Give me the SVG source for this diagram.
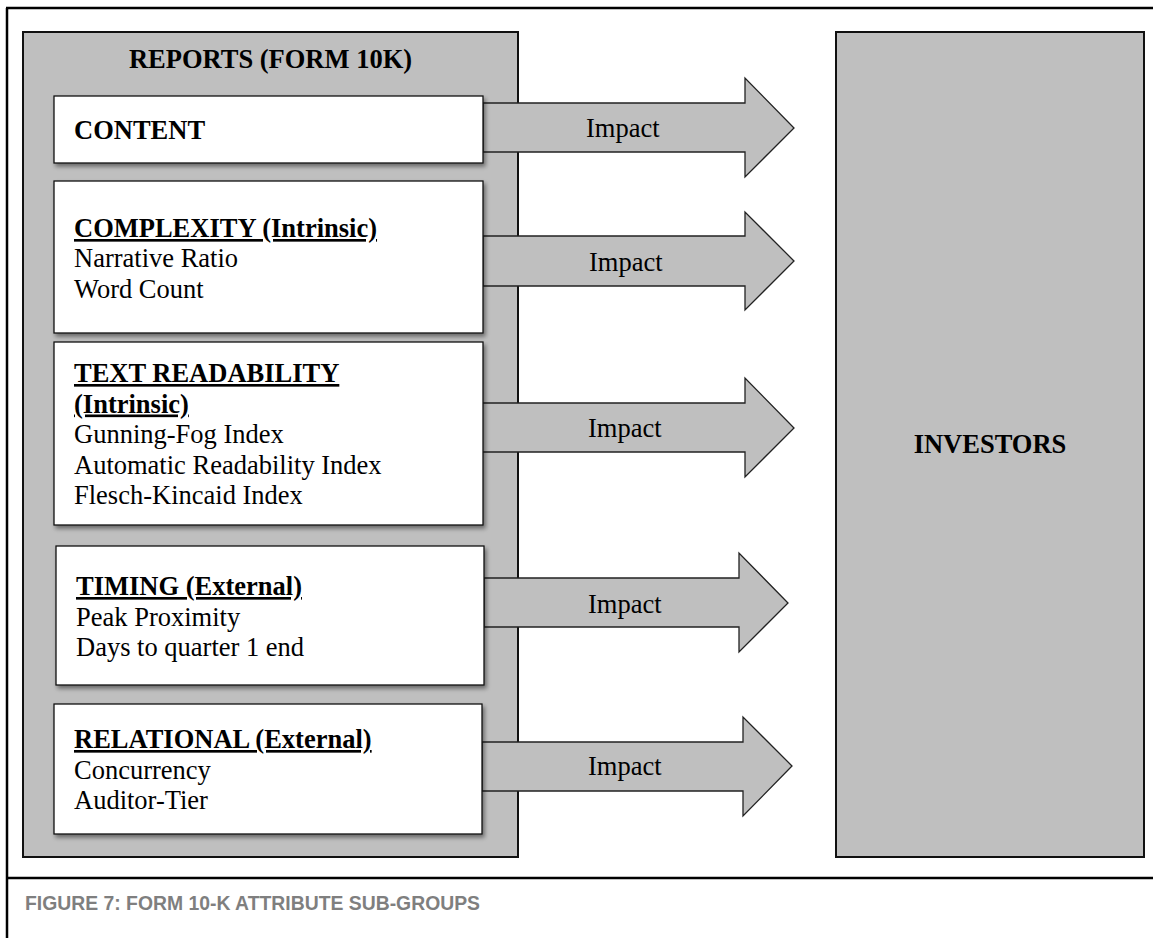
<svg xmlns="http://www.w3.org/2000/svg" width="1153" height="938" viewBox="0 0 1153 938">
<defs>
<filter id="sh" x="-5%" y="-10%" width="115%" height="130%">
<feDropShadow dx="2" dy="3" stdDeviation="2" flood-color="#000" flood-opacity="0.45"/>
</filter>
</defs>
<style>
.frame{stroke:#000;stroke-width:2.5;fill:none}
.panel{fill:#bfbfbf;stroke:#111;stroke-width:2}
.box{fill:#fff;stroke:#111;stroke-width:1.3;filter:url(#sh)}
.arrow{fill:#bfbfbf;stroke:#222;stroke-width:1.3}
.t{font-family:"Liberation Serif","Times New Roman",serif;font-size:26.5px;fill:#000}
.b{font-weight:bold}
.u{text-decoration:underline}
.imp{font-family:"Liberation Serif","Times New Roman",serif;font-size:26.5px;fill:#000}
.cap{font-family:"Liberation Sans",Arial,sans-serif;font-weight:bold;font-size:21px;fill:#7f7f7f}
</style>
<rect width="1153" height="938" fill="#fff"/>
<g id="frame">
<line class="frame" x1="7" y1="8" x2="7" y2="938"/>
<line class="frame" x1="6" y1="8" x2="1153" y2="8"/>
<line class="frame" x1="6" y1="878" x2="1153" y2="878"/>
</g>
<g id="reports">
<rect class="panel" x="23" y="32" width="495" height="825"/>
<text class="t b" x="270.5" y="68" text-anchor="middle">REPORTS (FORM 10K)</text>
</g>
<g id="investors">
<rect class="panel" x="836" y="32" width="308" height="825"/>
<text class="t b" x="990" y="453" text-anchor="middle">INVESTORS</text>
</g>
<g id="connectors">
<polygon class="arrow" points="483,103 745,103 745,78 794,128 745,177 745,152 483,152"/>
<polygon class="arrow" points="483,236 745,236 745,212 794,261 745,310 745,286 483,286"/>
<polygon class="arrow" points="482,403 745,403 745,378 794,428 745,477 745,452 482,452"/>
<polygon class="arrow" points="484,578 739,578 739,553 788,603 739,652 739,627 484,627"/>
<polygon class="arrow" points="482,742 743,742 743,717 792,766 743,816 743,791 482,791"/>
<text class="imp" x="586" y="137">Impact</text>
<text class="imp" x="589" y="271">Impact</text>
<text class="imp" x="588" y="437">Impact</text>
<text class="imp" x="588" y="613">Impact</text>
<text class="imp" x="588" y="775">Impact</text>
</g>
<g id="content">
<rect class="box" x="54" y="96" width="429" height="67"/>
<text class="t b" x="74" y="139">CONTENT</text>
</g>
<g id="complexity">
<rect class="box" x="54" y="181" width="429" height="152"/>
<text class="t b u" x="74" y="237">COMPLEXITY (Intrinsic)</text>
<text class="t" x="74" y="267">Narrative Ratio</text>
<text class="t" x="74" y="298">Word Count</text>
</g>
<g id="readability">
<rect class="box" x="54" y="342" width="429" height="183"/>
<text class="t b u" x="74" y="382">TEXT READABILITY</text>
<text class="t b u" x="74" y="412.5">(Intrinsic)</text>
<text class="t" x="74" y="443">Gunning-Fog Index</text>
<text class="t" x="74" y="473.5">Automatic Readability Index</text>
<text class="t" x="74" y="504">Flesch-Kincaid Index</text>
</g>
<g id="timing">
<rect class="box" x="56" y="546" width="428" height="139"/>
<text class="t b u" x="76" y="595">TIMING (External)</text>
<text class="t" x="76" y="625.5">Peak Proximity</text>
<text class="t" x="76" y="656">Days to quarter 1 end</text>
</g>
<g id="relational">
<rect class="box" x="54" y="704" width="428" height="130"/>
<text class="t b u" x="74" y="748">RELATIONAL (External)</text>
<text class="t" x="74" y="779">Concurrency</text>
<text class="t" x="74" y="809">Auditor-Tier</text>
</g>
<g id="caption">
<text class="cap" x="25" y="910" textLength="455" lengthAdjust="spacingAndGlyphs">FIGURE 7: FORM 10-K ATTRIBUTE SUB-GROUPS</text>
</g>
</svg>
